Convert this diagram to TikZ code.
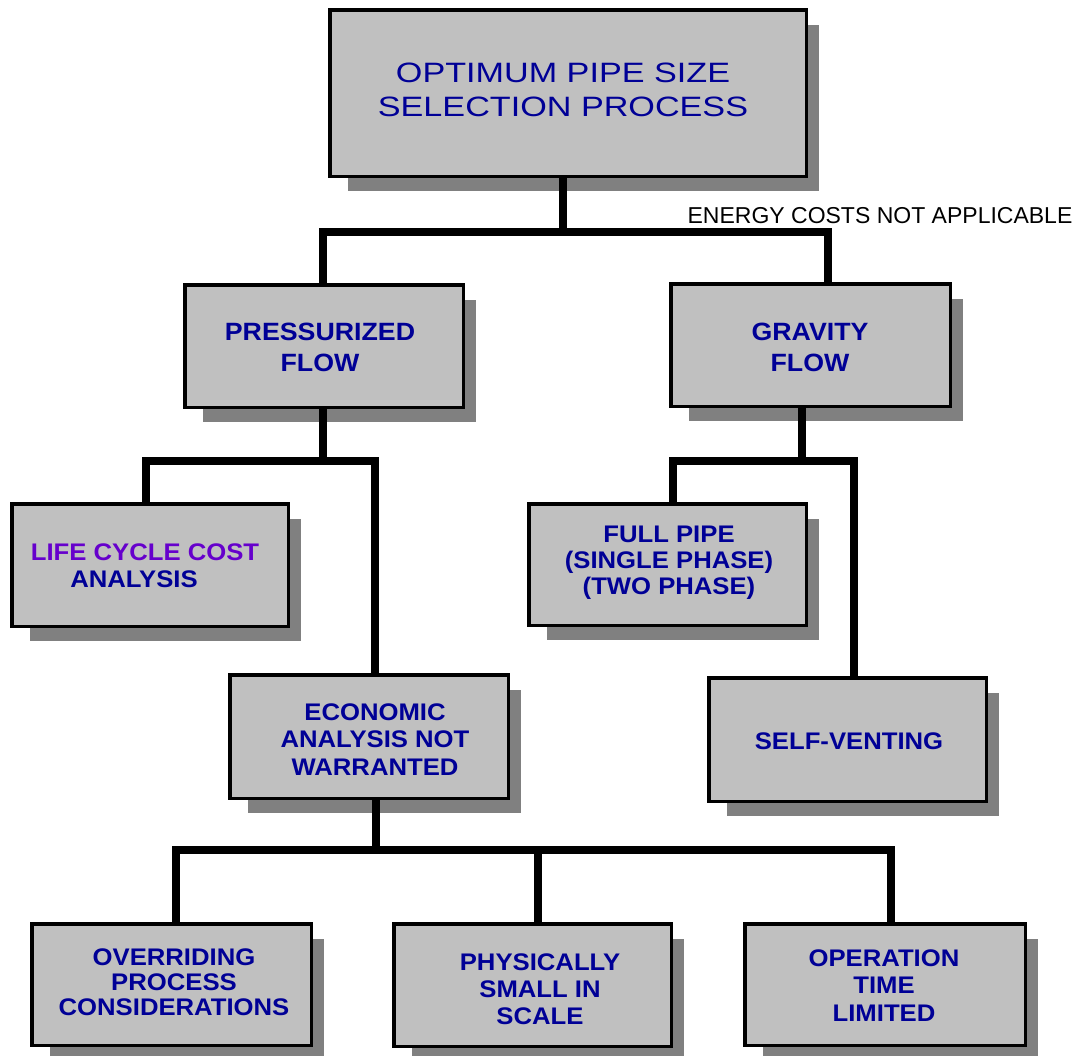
\documentclass[tikz,border=0pt]{standalone}
\usepackage{fontspec}
\setmainfont{Liberation Sans}
\newfontfamily\titlefont[FakeStretch=1.22]{Liberation Sans}
\newfontfamily\boxfont[FakeStretch=1.07]{Liberation Sans}
\definecolor{boxfill}{HTML}{C0C0C0}
\definecolor{shadowc}{HTML}{808080}
\definecolor{navy}{RGB}{0,0,150}
\definecolor{purp}{RGB}{102,0,204}
\tikzset{
  gbox/.style={draw=black, line width=3.5pt, fill=boxfill, inner sep=0pt},
  conn/.style={draw=black, line width=8pt, line join=miter},
  btxt/.style={inner sep=0pt, align=center, text=navy, font=\boxfont\fontsize{24}{27}\selectfont\bfseries},
  bigtxt/.style={inner sep=0pt, align=center, text=navy, font=\boxfont\fontsize{25}{31}\selectfont\bfseries},
  ttxt/.style={inner sep=0pt, align=center, text=navy, font=\titlefont\fontsize{28}{34}\selectfont},
  ntxt/.style={inner sep=0pt, text=black, font=\fontsize{23}{27}\selectfont}
}
\newcommand\gbx[5]{%
  \fill[shadowc] (#2+20,#3+17) rectangle (#4+11,#5+13);
  \node[gbox, minimum width={#4-#2-3.5}, minimum height={#5-#3-3.5}] (#1) at ({(#2+#4)/2},{(#3+#5)/2}) {};}
\begin{document}
\begin{tikzpicture}[x=1pt,y=-1pt]
\useasboundingbox (0,0) rectangle (1078,1055);
% boxes
\gbx{top}{328}{8}{808}{178}
\gbx{press}{183}{283}{465}{409}
\gbx{grav}{669}{282}{952}{408}
\gbx{life}{10}{502}{290}{628}
\gbx{full}{527}{502}{808}{627}
\gbx{econ}{228}{673}{510}{800}
\gbx{self}{707}{676}{988}{803}
\gbx{over}{30}{922}{313}{1047}
\gbx{phys}{392}{922}{673}{1048}
\gbx{oper}{743}{922}{1027}{1047}
% texts
\node[ttxt] (ttop) at (563,90) {OPTIMUM PIPE SIZE\\SELECTION PROCESS};
\node[bigtxt] (tpress) at (320,347) {PRESSURIZED\\FLOW};
\node[bigtxt] (tgrav) at (810,347.5) {GRAVITY\\FLOW};
\node[btxt, text=purp] (tlife1) at (145,552) {LIFE CYCLE COST};
\node[btxt] (tlife2) at (134,579) {ANALYSIS};
\node[btxt, font=\boxfont\fontsize{24}{26}\selectfont\bfseries] (tfull) at (669,563) {FULL PIPE\\(SINGLE PHASE)\\(TWO PHASE)};
\node[btxt, font=\boxfont\fontsize{24}{27.5}\selectfont\bfseries] (tecon) at (375,739.5) {ECONOMIC\\ANALYSIS NOT\\WARRANTED};
\node[btxt] (tself) at (849,741) {SELF-VENTING};
\node[btxt, font=\boxfont\fontsize{24}{25}\selectfont\bfseries] (tover) at (174,982) {OVERRIDING\\PROCESS\\CONSIDERATIONS};
\node[btxt] (tphys) at (540,989) {PHYSICALLY\\SMALL IN\\SCALE};
\node[btxt, font=\boxfont\fontsize{24}{27.5}\selectfont\bfseries] (toper) at (884,985.5) {OPERATION\\TIME\\LIMITED};
\node[ntxt] (energy) at (880,216) {ENERGY COSTS NOT APPLICABLE};
% connectors
\coordinate (j1) at (563,232);
\coordinate (j2) at (323,461);
\coordinate (j3) at (802,461);
\coordinate (j4) at (376,850);
\coordinate (pn) at ([xshift=5.5pt]phys.north);
\draw[conn] ([xshift=-5pt]top.south) -- (j1);
\draw[conn] ([xshift=-1pt]press.north) |- (j1) -| ([xshift=17.5pt]grav.north);
\draw[conn] ([xshift=-1pt]press.south) -- (j2);
\draw[conn] ([xshift=-4.5pt]life.north) |- (j2) -| ([xshift=6pt]econ.north);
\draw[conn] ([xshift=-8.5pt]grav.south) -- (j3);
\draw[conn] ([xshift=5.5pt]full.north) |- (j3) -| ([xshift=6pt]self.north);
\draw[conn] ([xshift=7pt]econ.south) -- (j4);
\draw[conn] ([xshift=4.5pt]over.north) |- (j4) -| ([xshift=6pt]oper.north);
\draw[conn] (pn) -- (pn |- j4);
\end{tikzpicture}
\end{document}
